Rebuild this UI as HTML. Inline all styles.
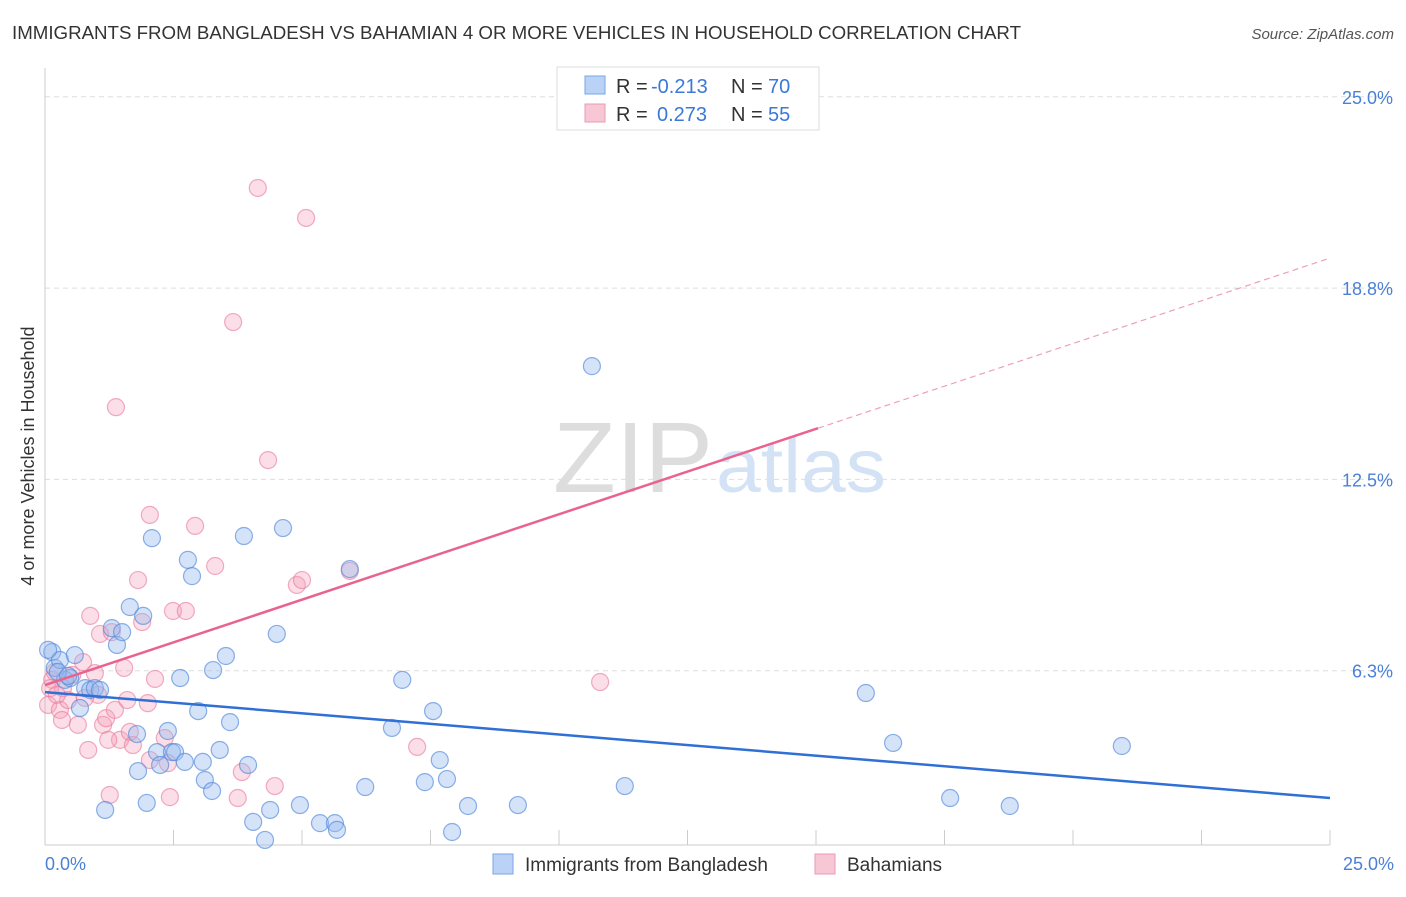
<!DOCTYPE html>
<html><head><meta charset="utf-8"><style>
body{margin:0;background:#fff;font-family:"Liberation Sans",sans-serif;}
svg text{font-family:"Liberation Sans",sans-serif;}
</style></head><body>
<svg id="chart" width="1406" height="892" viewBox="0 0 1406 892">
<text x="12" y="39" font-size="18" fill="#333" textLength="1009" lengthAdjust="spacingAndGlyphs">IMMIGRANTS FROM BANGLADESH VS BAHAMIAN 4 OR MORE VEHICLES IN HOUSEHOLD CORRELATION CHART</text>
<text x="1394" y="39" font-size="15" fill="#555" font-style="italic" text-anchor="end">Source: ZipAtlas.com</text>
<g id="grid"></g>
<g><text x="553" y="492" font-size="100" fill="#ddd" font-family="Liberation Serif,serif" textLength="160" lengthAdjust="spacingAndGlyphs">ZIP</text><text x="716" y="492" font-size="76" fill="#d4e2f5" textLength="170" lengthAdjust="spacingAndGlyphs">atlas</text></g>
<line x1="45" y1="68" x2="45" y2="845" stroke="#ccc"/>
<line x1="45" y1="845" x2="1330" y2="845" stroke="#ccc"/>
<text x="34" y="456" font-size="18" fill="#333" transform="rotate(-90 34 456)" text-anchor="middle">4 or more Vehicles in Household</text>
<text x="45" y="870" font-size="18" fill="#4a80d8">0.0%</text>
<text x="1394" y="870" font-size="18" fill="#4a80d8" text-anchor="end">25.0%</text>
<g id="pts"></g>
<g id="trends"></g>
<g>
<rect x="557" y="67" width="262" height="63" fill="#fff" stroke="#ddd"/>
<rect x="585" y="76" width="20" height="18" fill="#b9d2f5" stroke="#7aa6e6"/>
<rect x="585" y="104" width="20" height="18" fill="#f8c7d6" stroke="#eb9ab4"/>
<text x="616" y="93" font-size="20" fill="#333">R =</text>
<text x="651" y="93" font-size="20" fill="#3b78d8">-0.213</text>
<text x="731" y="93" font-size="20" fill="#333">N =</text>
<text x="768" y="93" font-size="20" fill="#3b78d8">70</text>
<text x="616" y="121" font-size="20" fill="#333">R =</text>
<text x="657" y="121" font-size="20" fill="#3b78d8">0.273</text>
<text x="731" y="121" font-size="20" fill="#333">N =</text>
<text x="768" y="121" font-size="20" fill="#3b78d8">55</text>
</g>
<g>
<rect x="493" y="854" width="20" height="20" fill="#b9d2f5" stroke="#7aa6e6"/>
<text x="525" y="871" font-size="19" fill="#333">Immigrants from Bangladesh</text>
<rect x="815" y="854" width="20" height="20" fill="#f8c7d6" stroke="#eb9ab4"/>
<text x="847" y="871" font-size="19" fill="#333">Bahamians</text>
</g>
</svg>
<script>
const yTicks=[6.25,12.5,18.75,25];
const yTickLabels=["6.3%","12.5%","18.8%","25.0%"];
const xTicks=[2.5,5,7.5,10,12.5,15,17.5,20,22.5,25];
const blueX=[.14,.19,.29,.39,.49,.58,.68,.78,.88,.97,1.07,1.17,1.30,1.40,1.50,1.65,1.79,1.81,1.91,1.98,2.08,2.18,2.24,2.39,2.47,2.53,2.63,2.72,2.78,2.86,2.98,3.07,3.11,3.25,3.27,3.40,3.52,3.60,3.87,3.95,4.05,4.28,4.38,4.51,4.63,4.96,5.35,5.64,5.68,5.93,6.23,6.75,6.95,7.39,7.55,7.68,7.82,7.92,8.23,9.20,10.64,11.28,15.97,16.50,17.61,18.77,20.95,.06,.25,.45];
const blueY=[6.86,6.34,6.60,5.95,6.01,6.76,5.03,5.68,5.62,5.68,5.62,1.70,7.64,7.09,7.51,8.33,4.18,2.97,8.04,1.93,10.58,3.59,3.17,4.28,3.59,3.59,6.01,3.27,9.87,9.34,4.93,3.27,2.68,2.32,6.27,3.66,6.73,4.57,10.65,3.17,1.31,.72,1.70,7.45,10.91,1.86,1.27,1.27,1.05,9.57,2.45,4.38,5.95,2.61,4.93,3.33,2.71,.98,1.83,1.86,16.2,2.48,5.52,3.89,2.09,1.83,3.79,6.93,6.21,6.08];
const pinkX=[.06,.14,.19,.29,.35,.45,.53,.64,.74,.84,.88,.97,1.03,1.07,1.13,1.19,1.26,1.30,1.36,1.38,1.46,1.54,1.60,1.65,1.71,1.81,1.89,2.00,2.04,2.14,2.33,2.39,2.43,2.49,2.74,2.92,3.31,3.66,3.75,3.83,4.14,4.34,4.47,4.90,5.00,5.08,5.93,7.24,10.80,.10,.23,.33,.78,1.23,2.04];
const pinkY=[5.13,5.95,6.21,4.97,5.68,5.29,6.11,4.48,6.53,3.66,8.04,6.17,5.46,7.45,4.48,4.70,2.19,7.51,4.97,14.86,3.99,6.34,5.29,4.25,3.82,9.21,7.84,5.19,11.34,5.98,4.05,3.23,2.12,8.20,8.20,10.98,9.67,17.64,2.09,2.94,22.02,13.13,2.48,9.05,9.21,21.04,9.51,3.76,5.88,5.68,5.46,4.64,5.36,3.99,3.33];
const blueTrend=[5.55,2.09];
const pinkTrend=[5.78,19.73];
const pinkSolidEnd=15.04;
const NS="http://www.w3.org/2000/svg";
function xs(v){return 45+v*51.4;}
function ys(v){return 862-v*30.61;}
function mk(t,a,p){const e=document.createElementNS(NS,t);for(const k in a)e.setAttribute(k,a[k]);p.appendChild(e);return e;}
const grid=document.getElementById('grid');
yTicks.forEach((t,i)=>{
 const l=mk('line',{x1:45,x2:1394,y1:ys(t),y2:ys(t),stroke:'#ddd','stroke-dasharray':'5,4'},grid);
 
 
 const tx=mk('text',{x:1393,y:ys(t)+7,'font-size':18,fill:'#4a80d8','text-anchor':'end'},grid);
 tx.textContent=yTickLabels[i];
 
 
});
xTicks.forEach(t=>{
 const l=mk('line',{x1:xs(t),x2:xs(t),y1:830,y2:845,stroke:'#ccc'},grid);
 
 
});
const pts=document.getElementById('pts');
pinkX.forEach((x,i)=>{
 const c=mk('circle',{cx:xs(x),cy:ys(pinkY[i]),r:8.5,fill:'rgba(244,160,186,0.35)',stroke:'rgba(232,120,155,0.6)','stroke-width':1.2},pts);
 
 
});
blueX.forEach((x,i)=>{
 const c=mk('circle',{cx:xs(x),cy:ys(blueY[i]),r:8.5,fill:'rgba(150,186,238,0.4)',stroke:'rgba(80,135,220,0.65)','stroke-width':1.2},pts);
 
 
});
const tr=document.getElementById('trends');
const bl=mk('line',{x1:xs(0),y1:ys(blueTrend[0]),x2:xs(25),y2:ys(blueTrend[1]),stroke:'#2f6fd6','stroke-width':2.5},tr);


const slope=(pinkTrend[1]-pinkTrend[0])/25;
const pm=pinkTrend[0]+slope*pinkSolidEnd;
const pl=mk('line',{x1:xs(0),y1:ys(pinkTrend[0]),x2:xs(pinkSolidEnd),y2:ys(pm),stroke:'#e8648f','stroke-width':2.5},tr);


const pd=mk('line',{x1:xs(pinkSolidEnd),y1:ys(pm),x2:xs(25),y2:ys(pinkTrend[1]),stroke:'#eea0b8','stroke-width':1.2,'stroke-dasharray':'6,4'},tr);


</script>
</body></html>
